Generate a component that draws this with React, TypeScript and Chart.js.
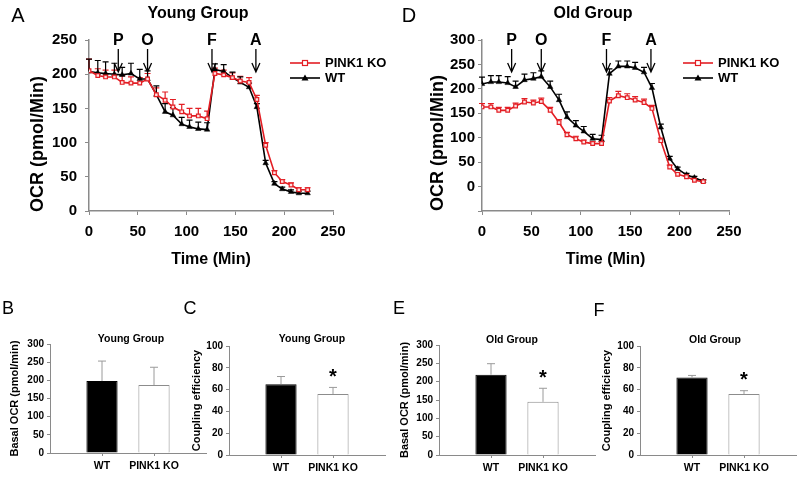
import React, { useEffect, useRef } from "react";
import { Chart, registerables } from "chart.js";
Chart.register(...registerables);

const FONT = "'Liberation Sans', Arial, Helvetica, sans-serif";
const RED = "#e31e24";
const AXIS = "#8a8a8a";

// ---------- data ----------
const timeMin = [0, 9, 17, 26, 34, 43, 52, 60, 69, 78, 86, 95, 103, 112, 121, 129, 138, 147, 155, 164, 172, 181, 190, 198, 207, 215, 224];
const seriesNames = ["PINK1 KO", "WT"];

const youngKO = [205, 198, 196, 196, 188, 187, 187, 193, 170, 162, 152, 145, 139, 139, 135, 201, 199, 195, 190, 188, 163, 96, 56, 43, 38, 31, 31];
const youngKOErr = [17, 10, 10, 10, 10, 9, 8, 8, 10, 12, 11, 11, 11, 11, 11, 8, 7, 7, 7, 7, 6, 4, 3, 3, 3, 3, 3];
const youngWT = [204, 202, 201, 200, 199, 201, 193, 193, 170, 145, 140, 127, 123, 120, 119, 207, 204, 195, 188, 181, 152, 70, 40, 32, 28, 26, 26];
const youngWTErr = [18, 18, 17, 16, 11, 15, 14, 12, 13, 12, 11, 10, 10, 10, 10, 8, 10, 8, 8, 6, 5, 4, 3, 3, 3, 3, 3];

const oldKO = [163, 163, 156, 156, 165, 173, 171, 174, 156, 131, 106, 98, 91, 88, 88, 175, 186, 182, 177, 172, 160, 94, 40, 25, 20, 13, 10];
const oldKOErr = [7, 7, 6, 6, 6, 7, 6, 7, 6, 6, 5, 5, 4, 4, 4, 7, 9, 8, 7, 7, 6, 5, 4, 3, 3, 3, 3];
const oldWT = [210, 214, 214, 212, 204, 218, 221, 225, 204, 177, 142, 125, 113, 98, 96, 231, 246, 246, 243, 234, 202, 121, 57, 36, 24, 18, 11];
const oldWTErr = [14, 13, 13, 13, 12, 12, 12, 12, 12, 12, 11, 10, 10, 9, 9, 10, 11, 11, 11, 10, 9, 7, 5, 4, 3, 3, 3];

const injectionLabels = ["P", "O", "F", "A"];
const injectionTimes = [30, 60, 126, 171];

const barGroups = ["WT", "PINK1 KO"];
const youngBasal = [198, 187];
const youngBasalErr = [55, 49];
const youngBasalSig = ["", ""];
const youngCoupling = [65, 56];
const youngCouplingErr = [7, 6];
const youngCouplingSig = ["", "*"];
const oldBasal = [219, 145];
const oldBasalErr = [30, 37];
const oldBasalSig = ["", "*"];
const oldCoupling = [71, 56];
const oldCouplingErr = [2, 3];
const oldCouplingSig = ["", "*"];

// ---------- plugins ----------
function lineErrorPlugin(sets: { errors: number[]; color: string }[]) {
  return {
    id: "lineErr",
    beforeDatasetsDraw(chart: any) {
      const ctx = chart.ctx;
      sets.forEach((set, i) => {
        const meta = chart.getDatasetMeta(i);
        const ys = chart.scales[meta.yAxisID];
        const ds = chart.data.datasets[i].data as any[];
        ctx.save();
        ctx.strokeStyle = set.color;
        ctx.lineWidth = 1.2;
        meta.data.forEach((el: any, j: number) => {
          const v = ds[j].y;
          const top = ys.getPixelForValue(v + set.errors[j]);
          ctx.beginPath();
          ctx.moveTo(el.x, el.y);
          ctx.lineTo(el.x, top);
          ctx.moveTo(el.x - 3, top);
          ctx.lineTo(el.x + 3, top);
          ctx.stroke();
        });
        ctx.restore();
      });
    },
  };
}

function injectionPlugin(labels: string[], times: number[]) {
  return {
    id: "inject",
    afterDraw(chart: any) {
      const ctx = chart.ctx;
      const xs = chart.scales.x;
      const top = chart.chartArea.top;
      ctx.save();
      ctx.fillStyle = "#000";
      ctx.strokeStyle = "#000";
      ctx.lineWidth = 1.3;
      ctx.font = `bold 16px ${FONT}`;
      ctx.textAlign = "center";
      ctx.textBaseline = "middle";
      labels.forEach((lab, i) => {
        const x = xs.getPixelForValue(times[i]);
        ctx.fillText(lab, x, top + 1);
        const y0 = top + 9;
        const y1 = top + 32;
        ctx.beginPath();
        ctx.moveTo(x, y0);
        ctx.lineTo(x, y1);
        ctx.moveTo(x - 4, y1 - 9);
        ctx.lineTo(x, y1);
        ctx.lineTo(x + 4, y1 - 9);
        ctx.stroke();
      });
      ctx.restore();
    },
  };
}

function legendPlugin(x0: number, y0: number, gap: number) {
  return {
    id: "customLegend",
    afterDraw(chart: any) {
      const ctx = chart.ctx;
      ctx.save();
      const items = [
        { name: seriesNames[0], color: RED, marker: "rect" },
        { name: seriesNames[1], color: "#000", marker: "tri" },
      ];
      items.forEach((it, i) => {
        const y = y0 + i * gap;
        ctx.strokeStyle = it.color;
        ctx.lineWidth = 1.6;
        ctx.beginPath();
        ctx.moveTo(x0, y);
        ctx.lineTo(x0 + 30, y);
        ctx.stroke();
        const mx = x0 + 15;
        if (it.marker === "rect") {
          ctx.fillStyle = "#fff";
          ctx.fillRect(mx - 2.5, y - 2.5, 5, 5);
          ctx.lineWidth = 1.2;
          ctx.strokeRect(mx - 2.5, y - 2.5, 5, 5);
        } else {
          ctx.fillStyle = "#000";
          ctx.beginPath();
          ctx.moveTo(mx, y - 3.5);
          ctx.lineTo(mx + 3.5, y + 2.5);
          ctx.lineTo(mx - 3.5, y + 2.5);
          ctx.closePath();
          ctx.fill();
        }
        ctx.fillStyle = "#000";
        ctx.font = `bold 13px ${FONT}`;
        ctx.textAlign = "left";
        ctx.textBaseline = "middle";
        ctx.fillText(it.name, x0 + 35, y);
      });
      ctx.restore();
    },
  };
}

function barErrorPlugin(errors: number[], sig: string[]) {
  return {
    id: "barErr",
    afterDatasetsDraw(chart: any) {
      const ctx = chart.ctx;
      const meta = chart.getDatasetMeta(0);
      const ys = chart.scales.y;
      const ds = chart.data.datasets[0].data as any[];
      ctx.save();
      meta.data.forEach((el: any, j: number) => {
        const v = ds[j].y;
        const base = ys.getPixelForValue(v);
        const top = ys.getPixelForValue(v + errors[j]);
        ctx.strokeStyle = "#9a9a9a";
        ctx.lineWidth = 1;
        ctx.beginPath();
        ctx.moveTo(el.x, base);
        ctx.lineTo(el.x, top);
        ctx.moveTo(el.x - 4, top);
        ctx.lineTo(el.x + 4, top);
        ctx.stroke();
        if (sig[j]) {
          ctx.fillStyle = "#000";
          ctx.font = `bold 20px ${FONT}`;
          ctx.textAlign = "center";
          ctx.textBaseline = "middle";
          ctx.fillText(sig[j], el.x, top - 10);
        }
      });
      ctx.restore();
    },
  };
}

// ---------- components ----------
type LineProps = {
  left: number; top: number; width: number; height: number;
  areaLeft: number; areaRight: number; areaTop: number; areaBottom: number;
  yMin: number; yMax: number;
  ko: number[]; koErr: number[]; wt: number[]; wtErr: number[];
  legendX: number; legendY: number; yTickPad: number;
};

function LinePanel(p: LineProps) {
  const ref = useRef<HTMLCanvasElement>(null);
  useEffect(() => {
    if (!ref.current) return;
    const yW = p.areaLeft - p.left;
    const xH = p.top + p.height - p.areaBottom;
    const chart = new Chart(ref.current, {
      type: "line",
      data: {
        datasets: [
          {
            label: seriesNames[0],
            data: timeMin.map((t, i) => ({ x: t, y: p.ko[i] })),
            borderColor: RED,
            backgroundColor: "#fff",
            borderWidth: 1.6,
            pointStyle: "rect",
            pointRadius: 2.6,
            pointBorderWidth: 1.2,
            pointBorderColor: RED,
            pointBackgroundColor: "#fde0e0",
          },
          {
            label: seriesNames[1],
            data: timeMin.map((t, i) => ({ x: t, y: p.wt[i] })),
            borderColor: "#000",
            backgroundColor: "#000",
            borderWidth: 1.6,
            pointStyle: "triangle",
            pointRadius: 3.2,
            pointBorderWidth: 0.5,
            pointBackgroundColor: "#000",
          },
        ],
      },
      options: {
        responsive: false,
        animation: false,
        layout: { padding: { left: 0, top: p.areaTop - p.top, right: p.left + p.width - p.areaRight, bottom: 0 } },
        plugins: { legend: { display: false }, tooltip: { enabled: false } },
        scales: {
          x: {
            type: "linear",
            min: 0,
            max: 250,
            afterFit: (s: any) => { s.height = xH; },
            ticks: { stepSize: 50, color: "#000", font: { family: FONT, size: 15, weight: "bold" }, padding: 8 },
            grid: { display: true, drawOnChartArea: false, tickLength: 4, color: AXIS },
            border: { display: true, color: AXIS, width: 1.5 },
            title: { display: true, text: "Time (Min)", color: "#000", font: { family: FONT, size: 16, weight: "bold" }, padding: { top: 0, bottom: 1 } },
          },
          y: {
            type: "linear",
            min: p.yMin,
            max: p.yMax,
            afterFit: (s: any) => { s.width = yW; },
            ticks: {
              stepSize: 50,
              color: "#000",
              font: { family: FONT, size: 15, weight: "bold" },
              padding: p.yTickPad,
              callback: (v: any) => (v < 0 ? "" : String(v)),
            },
            grid: { display: true, drawOnChartArea: false, tickLength: 4, color: AXIS },
            border: { display: true, color: AXIS, width: 1.5 },
          },
        },
      } as any,
      plugins: [
        lineErrorPlugin([{ errors: p.koErr, color: RED }, { errors: p.wtErr, color: "#000" }]),
        injectionPlugin(injectionLabels, injectionTimes),
        legendPlugin(p.legendX - p.left, p.legendY - p.top, 15),
      ],
    });
    return () => chart.destroy();
  }, []);
  return (
    <canvas ref={ref} width={p.width} height={p.height}
      style={{ position: "absolute", left: p.left, top: p.top, width: p.width, height: p.height }} />
  );
}

type BarProps = {
  left: number; top: number; width: number; height: number;
  areaLeft: number; areaRight: number; areaTop: number; areaBottom: number;
  yMax: number; yStep: number; values: number[]; errors: number[]; sig: string[];
  yTitle: string; yTitleX: number;
};

function BarPanel(p: BarProps) {
  const ref = useRef<HTMLCanvasElement>(null);
  useEffect(() => {
    if (!ref.current) return;
    const yW = p.areaLeft - p.left;
    const xH = p.top + p.height - p.areaBottom;
    const chart = new Chart(ref.current, {
      type: "bar",
      data: {
        datasets: [
          {
            data: p.values.map((v, i) => ({ x: i + 1, y: v })),
            backgroundColor: ["#000", "#fff"],
            borderColor: ["#000", "#8c8c8c"],
            borderWidth: 1,
            categoryPercentage: 0.8,
            barPercentage: 0.75,
          },
        ],
      },
      options: {
        responsive: false,
        animation: false,
        layout: { padding: { left: 0, top: p.areaTop - p.top, right: p.left + p.width - p.areaRight, bottom: 0 } },
        plugins: { legend: { display: false }, tooltip: { enabled: false } },
        scales: {
          x: {
            type: "linear",
            min: 0,
            max: 3,
            offset: false,
            afterFit: (s: any) => { s.height = xH; },
            afterBuildTicks: (s: any) => { s.ticks = [{ value: 1 }, { value: 2 }]; },
            ticks: {
              autoSkip: false,
              maxRotation: 0,
              color: "#000",
              font: { family: FONT, size: 10.5, weight: "bold" },
              padding: 4,
              callback: (v: any) => barGroups[Math.round(v) - 1] ?? "",
            },
            grid: { display: true, drawOnChartArea: false, tickLength: 3, color: AXIS, offset: false },
            border: { display: true, color: AXIS, width: 1 },
          },
          y: {
            type: "linear",
            min: 0,
            max: p.yMax,
            afterFit: (s: any) => { s.width = yW; },
            ticks: { stepSize: p.yStep, color: "#000", font: { family: FONT, size: 10, weight: "bold" }, padding: 3 },
            grid: { display: true, drawOnChartArea: false, tickLength: 3, color: AXIS },
            border: { display: true, color: AXIS, width: 1 },
            title: {
              display: true,
              text: p.yTitle,
              color: "#000",
              font: { family: FONT, size: 11, weight: "bold" },
              padding: { top: Math.max(0, p.yTitleX - p.left - 6.6), bottom: 0 },
            },
          },
        },
      } as any,
      plugins: [barErrorPlugin(p.errors, p.sig)],
    });
    return () => chart.destroy();
  }, []);
  return (
    <canvas ref={ref} width={p.width} height={p.height}
      style={{ position: "absolute", left: p.left, top: p.top, width: p.width, height: p.height }} />
  );
}

function Txt(props: { x: number; y: number; text: string; size: number; bold?: boolean; rotate?: boolean }) {
  return (
    <div
      style={{
        position: "absolute",
        left: props.x,
        top: props.y,
        transform: `translate(-50%, -50%)${props.rotate ? " rotate(-90deg)" : ""}`,
        fontFamily: FONT,
        fontSize: props.size,
        fontWeight: props.bold ? "bold" : "normal",
        whiteSpace: "nowrap",
        lineHeight: 1,
        color: "#000",
      }}
    >
      {props.text}
    </div>
  );
}

export default function App() {
  return (
    <div style={{ position: "absolute", left: 0, top: 0, width: 800, height: 477, background: "#fff", overflow: "hidden" }}>
      <LinePanel left={0} top={0} width={400} height={270}
        areaLeft={89} areaRight={333} areaTop={40} areaBottom={211}
        yMin={0} yMax={250} ko={youngKO} koErr={youngKOErr} wt={youngWT} wtErr={youngWTErr}
        legendX={290} legendY={63} yTickPad={8} />
      <LinePanel left={400} top={0} width={400} height={270}
        areaLeft={482} areaRight={729} areaTop={40} areaBottom={211}
        yMin={-50} yMax={300} ko={oldKO} koErr={oldKOErr} wt={oldWT} wtErr={oldWTErr}
        legendX={683} legendY={63} yTickPad={3} />

      <BarPanel left={0} top={320} width={210} height={157}
        areaLeft={50} areaRight={206} areaTop={344} areaBottom={453}
        yMax={300} yStep={50} values={youngBasal} errors={youngBasalErr} sig={youngBasalSig}
        yTitle="Basal OCR (pmol/min)" yTitleX={15} />
      <BarPanel left={186} top={320} width={210} height={157}
        areaLeft={229} areaRight={385} areaTop={346} areaBottom={455}
        yMax={100} yStep={20} values={youngCoupling} errors={youngCouplingErr} sig={youngCouplingSig}
        yTitle="Coupling efficiency" yTitleX={197} />
      <BarPanel left={390} top={320} width={210} height={157}
        areaLeft={439} areaRight={595} areaTop={345} areaBottom={455}
        yMax={300} yStep={50} values={oldBasal} errors={oldBasalErr} sig={oldBasalSig}
        yTitle="Basal OCR (pmol/min)" yTitleX={405} />
      <BarPanel left={590} top={320} width={210} height={157}
        areaLeft={640} areaRight={796} areaTop={346} areaBottom={455}
        yMax={100} yStep={20} values={oldCoupling} errors={oldCouplingErr} sig={oldCouplingSig}
        yTitle="Coupling efficiency" yTitleX={607} />

      <Txt x={18} y={15} text="A" size={20} />
      <Txt x={198} y={13} text="Young Group" size={16} bold />
      <Txt x={37} y={144} text="OCR (pmol/Min)" size={18} bold rotate />
      <Txt x={409} y={15} text="D" size={20} />
      <Txt x={593} y={13} text="Old Group" size={16} bold />
      <Txt x={437} y={143} text="OCR (pmol/Min)" size={18} bold rotate />

      <Txt x={8} y={308} text="B" size={18} />
      <Txt x={190} y={308} text="C" size={18} />
      <Txt x={399} y={308} text="E" size={18} />
      <Txt x={599} y={310} text="F" size={18} />
      <Txt x={131} y={338} text="Young Group" size={10.5} bold />
      <Txt x={312} y={338} text="Young Group" size={10.5} bold />
      <Txt x={512} y={339} text="Old Group" size={10.5} bold />
      <Txt x={715} y={339} text="Old Group" size={10.5} bold />
    </div>
  );
}
